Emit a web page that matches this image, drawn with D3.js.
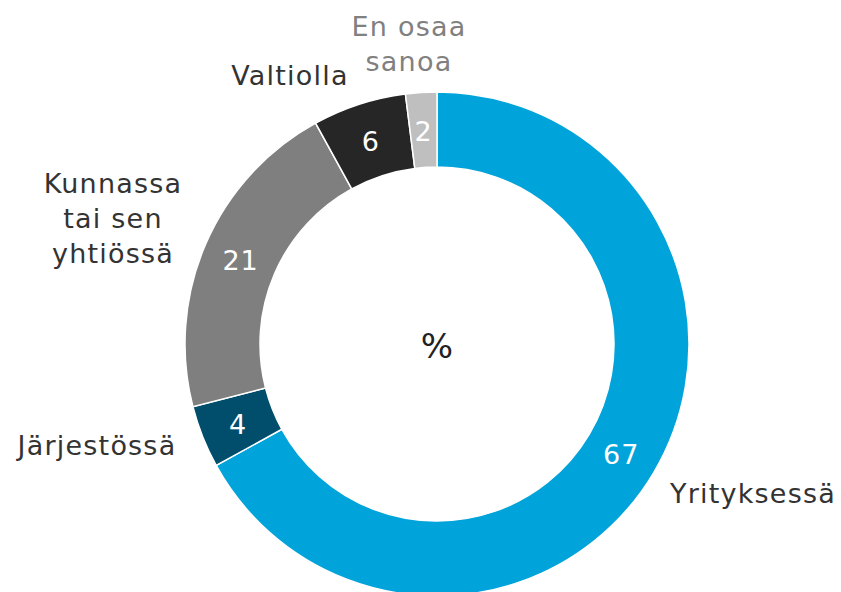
<!DOCTYPE html>
<html>
<head>
<meta charset="utf-8">
<script src="https://cdn.jsdelivr.net/npm/d3@7"></script>
<style>
  body { margin: 0; background: #fff; }
  svg text { font-family: "DejaVu Sans", Verdana, sans-serif; }
</style>
</head>
<body>
<div id="chart"></div>
<script>
// data
const categories = ["Yrityksessä", "Järjestössä", "Kunnassa tai sen yhtiössä", "Valtiolla", "En osaa sanoa"];
const values = [67, 4, 21, 6, 2];
const colors = ["#00a3da", "#004e6b", "#7f7f7f", "#262626", "#bfbfbf"];

// label lines + where they sit (layout only)
const labelLines = [["Yrityksessä"], ["Järjestössä"], ["Kunnassa", "tai sen", "yhtiössä"], ["Valtiolla"], ["En osaa", "sanoa"]];
const labelPos = [[753, 503], [97, 455], [113, 193], [290, 85], [409, 36]];
const labelColor = ["#333", "#333", "#333", "#333", "#808080"];

const width = 841, height = 592;
const cx = 437, cy = 344;
const outerR = 252, innerR = 177;

const svg = d3.select("#chart").append("svg")
  .attr("width", width)
  .attr("height", height);

const g = svg.append("g").attr("transform", "translate(" + cx + "," + cy + ")");

const pie = d3.pie().sort(null).value(d => d);
const arcs = pie(values);

const arc = d3.arc().innerRadius(innerR).outerRadius(outerR);
const labelArc = d3.arc().innerRadius(214).outerRadius(214);

g.selectAll("path")
  .data(arcs)
  .enter()
  .append("path")
  .attr("d", arc)
  .attr("fill", (d, i) => colors[i])
  .attr("stroke", "#fff")
  .attr("stroke-width", 1.5);

// values inside the ring
g.selectAll("text.val")
  .data(arcs)
  .enter()
  .append("text")
  .attr("class", "val")
  .attr("x", d => labelArc.centroid(d)[0])
  .attr("y", d => labelArc.centroid(d)[1] + 11)
  .attr("text-anchor", "middle")
  .attr("font-size", 27)
  .attr("letter-spacing", 1)
  .attr("fill", "#fff")
  .text(d => d.data);

// category labels
categories.forEach((c, i) => {
  const t = svg.append("text")
    .attr("text-anchor", "middle")
    .attr("font-size", 27)
    .attr("letter-spacing", 1.2)
    .attr("fill", labelColor[i]);
  labelLines[i].forEach((line, j) => {
    t.append("tspan")
      .attr("x", labelPos[i][0])
      .attr("y", labelPos[i][1] + j * 35)
      .text(line);
  });
});

svg.append("text")
  .attr("x", cx)
  .attr("y", cy + 14)
  .attr("text-anchor", "middle")
  .attr("font-size", 34)
  .attr("fill", "#222")
  .text("%");
</script>
</body>
</html>
